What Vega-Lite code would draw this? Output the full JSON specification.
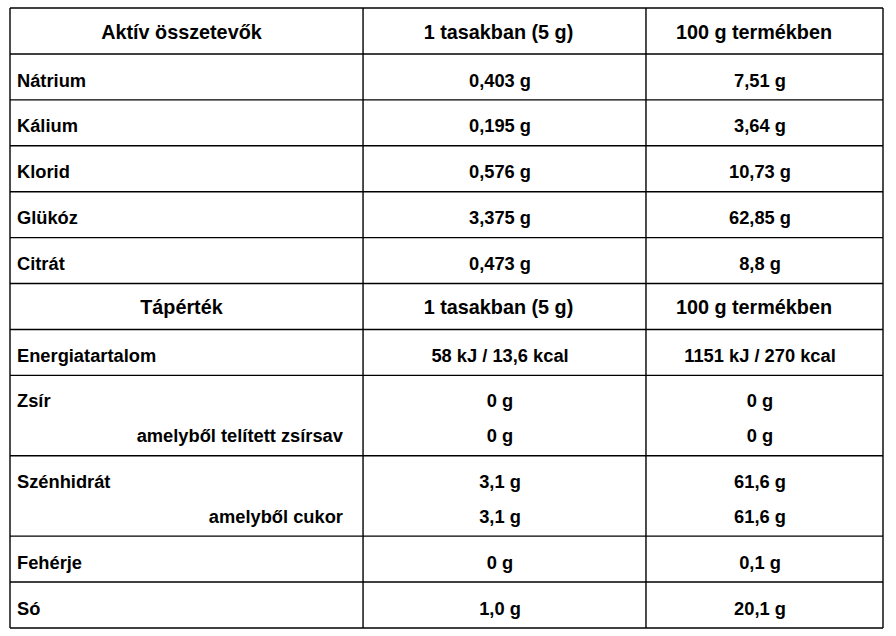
{
  "$schema": "https://vega.github.io/schema/vega-lite/v6.json",
  "width": 873,
  "height": 620,
  "autosize": {"type": "none"},
  "padding": {"left": 10, "top": 8, "right": 13, "bottom": 8},
  "background": "white",
  "config": {
    "view": {"stroke": null},
    "axis": {"disable": true},
    "text": {"font": "Liberation Sans", "fontWeight": "bold", "color": "#000", "baseline": "alphabetic"},
    "rule": {"color": "#000", "strokeWidth": 1.4}
  },
  "datasets": {
    "hlines": [
      {"y": 0}, {"y": 1}, {"y": 2}, {"y": 3}, {"y": 4}, {"y": 5}, {"y": 6},
      {"y": 7}, {"y": 8}, {"y": 9.75}, {"y": 11.5}, {"y": 12.5}, {"y": 13.5}
    ],
    "vlines": [{"x": 0}, {"x": 40.44}, {"x": 72.85}, {"x": 100}],
    "cells": [
      {"line": 0.68, "col": 1, "kind": "head", "text": "Aktív összetevők"},
      {"line": 0.68, "col": 2, "kind": "head", "text": "1 tasakban (5 g)"},
      {"line": 0.68, "col": 3, "kind": "head", "text": "100 g termékben"},
      {"line": 1.71, "col": 1, "kind": "label", "text": "Nátrium"},
      {"line": 1.71, "col": 2, "kind": "value", "text": "0,403 g"},
      {"line": 1.71, "col": 3, "kind": "value", "text": "7,51 g"},
      {"line": 2.71, "col": 1, "kind": "label", "text": "Kálium"},
      {"line": 2.71, "col": 2, "kind": "value", "text": "\u20020,195 g"},
      {"line": 2.71, "col": 3, "kind": "value", "text": "\u20023,64 g"},
      {"line": 3.71, "col": 1, "kind": "label", "text": "Klorid"},
      {"line": 3.71, "col": 2, "kind": "value", "text": "0,576 g"},
      {"line": 3.71, "col": 3, "kind": "value", "text": "10,73 g"},
      {"line": 4.71, "col": 1, "kind": "label", "text": "Glükóz"},
      {"line": 4.71, "col": 2, "kind": "value", "text": "3,375 g"},
      {"line": 4.71, "col": 3, "kind": "value", "text": "62,85 g"},
      {"line": 5.71, "col": 1, "kind": "label", "text": "Citrát"},
      {"line": 5.71, "col": 2, "kind": "value", "text": "0,473 g"},
      {"line": 5.71, "col": 3, "kind": "value", "text": "8,8 g"},
      {"line": 6.67, "col": 1, "kind": "head", "text": "Tápérték"},
      {"line": 6.67, "col": 2, "kind": "head", "text": "1 tasakban (5 g)"},
      {"line": 6.67, "col": 3, "kind": "head", "text": "100 g termékben"},
      {"line": 7.71, "col": 1, "kind": "label", "text": "Energiatartalom"},
      {"line": 7.71, "col": 2, "kind": "value", "text": "58 kJ / 13,6 kcal"},
      {"line": 7.71, "col": 3, "kind": "value", "text": "1151 kJ / 270 kcal\u2002"},
      {"line": 8.69, "col": 1, "kind": "label", "text": "Zsír"},
      {"line": 8.69, "col": 2, "kind": "value", "text": "0 g"},
      {"line": 8.69, "col": 3, "kind": "value", "text": "0 g"},
      {"line": 9.46, "col": 1, "kind": "sub", "text": "amelyből telített zsírsav"},
      {"line": 9.46, "col": 2, "kind": "value", "text": "0 g"},
      {"line": 9.46, "col": 3, "kind": "value", "text": "0 g"},
      {"line": 10.46, "col": 1, "kind": "label", "text": "Szénhidrát"},
      {"line": 10.46, "col": 2, "kind": "value", "text": "3,1 g"},
      {"line": 10.46, "col": 3, "kind": "value", "text": "61,6 g"},
      {"line": 11.22, "col": 1, "kind": "sub", "text": "amelyből cukor"},
      {"line": 11.22, "col": 2, "kind": "value", "text": "3,1 g"},
      {"line": 11.22, "col": 3, "kind": "value", "text": "61,6 g"},
      {"line": 12.21, "col": 1, "kind": "label", "text": "Fehérje"},
      {"line": 12.21, "col": 2, "kind": "value", "text": "0 g"},
      {"line": 12.21, "col": 3, "kind": "value", "text": "0,1 g"},
      {"line": 13.21, "col": 1, "kind": "label", "text": "Só"},
      {"line": 13.21, "col": 2, "kind": "value", "text": "1,0 g"},
      {"line": 13.21, "col": 3, "kind": "value", "text": "20,1 g"}
    ]
  },
  "layer": [
    {
      "data": {"name": "hlines"},
      "mark": "rule",
      "encoding": {
        "y": {"field": "y", "type": "quantitative", "scale": {"domain": [0, 13.5], "reverse": true, "nice": false, "zero": false}},
        "x": {"datum": 0, "type": "quantitative", "scale": {"domain": [0, 100], "nice": false, "zero": false}},
        "x2": {"datum": 100}
      }
    },
    {
      "data": {"name": "vlines"},
      "mark": "rule",
      "encoding": {
        "x": {"field": "x", "type": "quantitative"},
        "y": {"datum": 0, "type": "quantitative"},
        "y2": {"datum": 13.5}
      }
    },
    {
      "data": {"name": "cells"},
      "transform": [{"filter": "datum.kind == 'head' && datum.col == 1"}],
      "mark": {"type": "text", "align": "center", "fontSize": 19.8},
      "encoding": {
        "x": {"datum": 19.64, "type": "quantitative"},
        "y": {"field": "line", "type": "quantitative"},
        "text": {"field": "text"}
      }
    },
    {
      "data": {"name": "cells"},
      "transform": [{"filter": "datum.kind == 'head' && datum.col == 2"}],
      "mark": {"type": "text", "align": "center", "fontSize": 19.8},
      "encoding": {
        "x": {"datum": 55.96, "type": "quantitative"},
        "y": {"field": "line", "type": "quantitative"},
        "text": {"field": "text"}
      }
    },
    {
      "data": {"name": "cells"},
      "transform": [{"filter": "datum.kind == 'head' && datum.col == 3"}],
      "mark": {"type": "text", "align": "center", "fontSize": 19.8},
      "encoding": {
        "x": {"datum": 85.22, "type": "quantitative"},
        "y": {"field": "line", "type": "quantitative"},
        "text": {"field": "text"}
      }
    },
    {
      "data": {"name": "cells"},
      "transform": [{"filter": "datum.kind == 'label'"}],
      "mark": {"type": "text", "align": "left", "fontSize": 18.3},
      "encoding": {
        "x": {"datum": 0.8, "type": "quantitative"},
        "y": {"field": "line", "type": "quantitative"},
        "text": {"field": "text"}
      }
    },
    {
      "data": {"name": "cells"},
      "transform": [{"filter": "datum.kind == 'sub'"}],
      "mark": {"type": "text", "align": "right", "fontSize": 18.3},
      "encoding": {
        "x": {"datum": 38.14, "type": "quantitative"},
        "y": {"field": "line", "type": "quantitative"},
        "text": {"field": "text"}
      }
    },
    {
      "data": {"name": "cells"},
      "transform": [{"filter": "datum.kind == 'value' && datum.col == 2"}],
      "mark": {"type": "text", "align": "center", "fontSize": 18.3},
      "encoding": {
        "x": {"datum": 56.13, "type": "quantitative"},
        "y": {"field": "line", "type": "quantitative"},
        "text": {"field": "text"}
      }
    },
    {
      "data": {"name": "cells"},
      "transform": [{"filter": "datum.kind == 'value' && datum.col == 3"}],
      "mark": {"type": "text", "align": "center", "fontSize": 18.3},
      "encoding": {
        "x": {"datum": 85.91, "type": "quantitative"},
        "y": {"field": "line", "type": "quantitative"},
        "text": {"field": "text"}
      }
    }
  ]
}
